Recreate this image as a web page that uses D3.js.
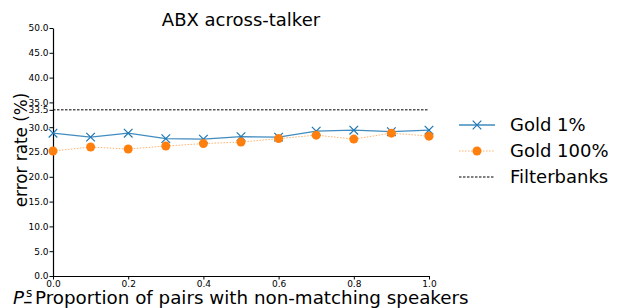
<html>
<head>
<script src="https://d3js.org/d3.v7.min.js"></script>
<style>
body { margin:0; background:#fff; }
text { font-family: "DejaVu Sans", sans-serif; }
</style>
</head>
<body>
<svg id="chart" width="619" height="308"></svg>
<script>
var props = [0.0, 0.1, 0.2, 0.3, 0.4, 0.5, 0.6, 0.7, 0.8, 0.9, 1.0];
var gold1 = [28.8, 28.0, 28.8, 27.7, 27.6, 28.1, 28.0, 29.2, 29.4, 29.1, 29.4];
var gold100 = [25.2, 26.0, 25.6, 26.2, 26.7, 27.0, 27.7, 28.4, 27.6, 28.8, 28.2];
var filterbanks = 33.5;
var yTicks = [0, 5, 10, 15, 20, 25, 30, 33.5, 35, 40, 45, 50];
var xTicks = [0, 0.2, 0.4, 0.6, 0.8, 1.0];

var svg = d3.select('#chart');
var mLeft = 53, mRight = 429, mTop = 28, mBottom = 276;

var x = d3.scaleLinear().domain([0, 1]).range([mLeft, mRight]);
var y = d3.scaleLinear().domain([0, 50]).range([mBottom, mTop]);

// axes
svg.append('g')
  .attr('transform', 'translate(0,' + mBottom + ')')
  .call(d3.axisBottom(x).tickValues(xTicks).tickFormat(d3.format('.1f')).tickSize(3.5).tickSizeOuter(0))
  .call(function(g) {
    g.selectAll('text').style('font-size', '9px').attr('y', 4).attr('dy', '0.75em').attr('fill', '#000');
    g.select('.domain').attr('stroke-width', 1.2);
  });
svg.append('g')
  .attr('transform', 'translate(' + mLeft + ',0)')
  .call(d3.axisLeft(y).tickValues(yTicks).tickFormat(d3.format('.1f')).tickSize(3.5).tickSizeOuter(0))
  .call(function(g) {
    g.selectAll('text').style('font-size', '9px').attr('x', -4.5).attr('fill', '#000');
    g.select('.domain').attr('stroke-width', 1.2);
  });

// filterbanks
svg.append('line')
  .attr('x1', x(0)).attr('x2', x(1))
  .attr('y1', y(filterbanks)).attr('y2', y(filterbanks))
  .attr('stroke', '#000').attr('stroke-width', 1)
  .attr('stroke-dasharray', '2.5,1.5');

var line = d3.line().x(function(d, i) { return x(props[i]); }).y(function(d) { return y(d); });

// gold 1%
svg.append('path').datum(gold1).attr('d', line)
  .attr('fill', 'none').attr('stroke', '#1f77b4').attr('stroke-width', 1.3).attr('opacity', 0.85);
var cross = d3.symbol().type(d3.symbolX).size(50);
svg.selectAll('.g1').data(gold1).enter().append('path')
  .attr('d', cross)
  .attr('transform', function(d, i) { return 'translate(' + x(props[i]) + ',' + y(d) + ')'; })
  .attr('fill', 'none').attr('stroke', '#1f77b4').attr('stroke-width', 1.2);

// gold 100%
svg.append('path').datum(gold100).attr('d', line)
  .attr('fill', 'none').attr('stroke', '#ff7f0e').attr('stroke-width', 1).attr('opacity', 0.6)
  .attr('stroke-dasharray', '1.5,1.5');
svg.selectAll('.g100').data(gold100).enter().append('circle')
  .attr('cx', function(d, i) { return x(props[i]); })
  .attr('cy', function(d) { return y(d); })
  .attr('r', 4.5).attr('fill', '#ff7f0e');

// title
svg.append('text').attr('x', 241).attr('y', 26).attr('text-anchor', 'middle')
  .style('font-size', '18px').text('ABX across-talker');

// y label
svg.append('text').attr('transform', 'translate(27,150) rotate(-90)')
  .attr('text-anchor', 'middle').style('font-size', '16.8px').text('error rate (%)');

// x label
var xl = svg.append('text').attr('y', 304).style('font-size', '18.3px');
xl.append('tspan').attr('x', 13).style('font-style', 'italic').text('P');
xl.append('tspan').attr('x', 26).attr('y', 297).style('font-size', '12px').text('s');
xl.append('tspan').attr('x', 24).attr('y', 300).style('font-size', '15px').style('font-weight', 'bold').text('_');
xl.append('tspan').attr('x', 35).attr('y', 304).text('Proportion of pairs with non-matching speakers');

// legend
var legend = [
  {t: 'Gold 1%', c: '#1f77b4', y: 125},
  {t: 'Gold 100%', c: '#ff7f0e', y: 151},
  {t: 'Filterbanks', c: '#000', y: 177}
];
legend.forEach(function(d, i) {
  var l = svg.append('line').attr('x1', 459).attr('x2', 495).attr('y1', d.y).attr('y2', d.y)
    .attr('stroke', d.c);
  if (i == 0) {
    l.attr('stroke-width', 1.3).attr('opacity', 0.85);
    svg.append('path').attr('d', cross).attr('transform', 'translate(477,' + d.y + ')')
      .attr('fill', 'none').attr('stroke', d.c).attr('stroke-width', 1.2);
  } else if (i == 1) {
    l.attr('stroke-dasharray', '1.5,1.5').attr('opacity', 0.6);
    svg.append('circle').attr('cx', 477).attr('cy', d.y).attr('r', 4.5).attr('fill', d.c);
  } else {
    l.attr('stroke-dasharray', '2.5,1.5');
  }
  svg.append('text').attr('x', 510).attr('y', d.y + 6).style('font-size', '18px').text(d.t);
});
</script>
</body>
</html>
